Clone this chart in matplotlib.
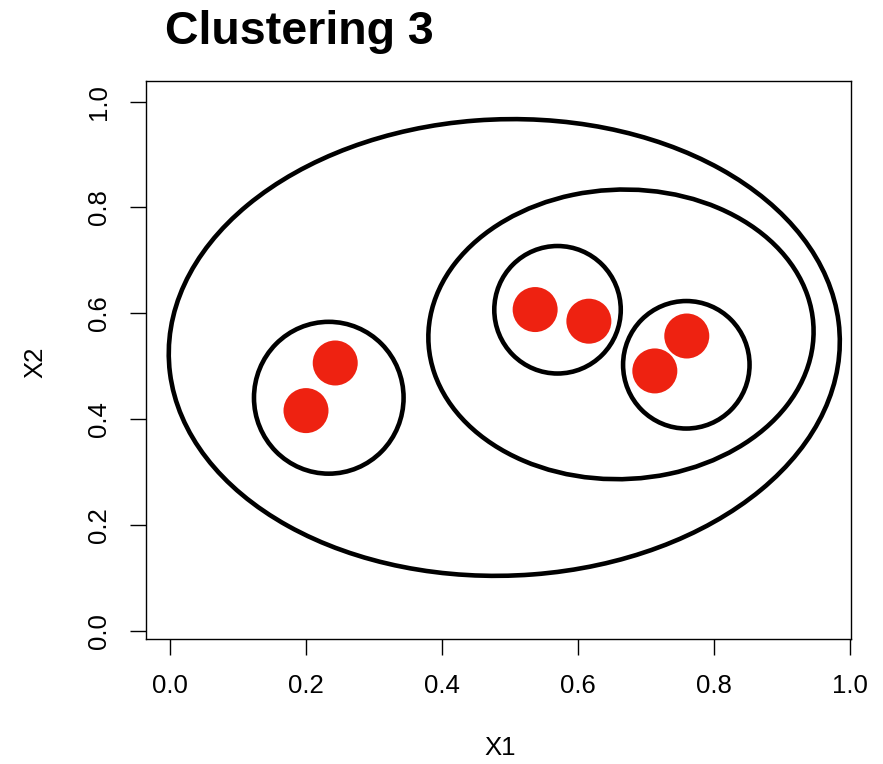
import matplotlib
matplotlib.use('Agg')
import matplotlib.pyplot as plt
from matplotlib.patches import Ellipse
import numpy as np

# points (X1, X2)
x1 = [0.200, 0.243, 0.537, 0.616, 0.713, 0.760]
x2 = [0.416, 0.506, 0.607, 0.585, 0.491, 0.557]

# cluster ellipses: centre x, centre y, width, height, angle
ell_cx = [0.4916, 0.6632, 0.2335, 0.5699, 0.7593]
ell_cy = [0.5353, 0.5601, 0.4403, 0.6066, 0.5026]
ell_w = [0.988, 0.568, 0.220, 0.186, 0.186]
ell_h = [0.862, 0.546, 0.287, 0.241, 0.241]
ell_ang = [5.6, 15.0, 0.0, 0.0, 0.0]

ticks = [0.0, 0.2, 0.4, 0.6, 0.8, 1.0]

plt.rcParams['font.family'] = 'Liberation Sans'

fig = plt.figure(figsize=(8.83, 7.64), dpi=100)
ax = fig.add_axes([146 / 883, 1 - 639 / 764, 705 / 883, 558 / 764])

for cx, cy, w, h, a in zip(ell_cx, ell_cy, ell_w, ell_h, ell_ang):
    ax.add_patch(Ellipse((cx, cy), w, h, angle=a, fill=False,
                         edgecolor='black', lw=3.3))

ax.scatter(x1, x2, s=1050, color='#EE2211', edgecolors='none', zorder=3)

ax.set_xlim(-0.0353, 1.0015)
ax.set_ylim(-0.0157, 1.039)
ax.set_xticks(ticks)
ax.set_yticks(ticks)
ax.set_xticklabels(['%.1f' % t for t in ticks], fontsize=18.5)
ax.set_yticklabels(['%.1f' % t for t in ticks], fontsize=18.5,
                   rotation=90, va='center')
ax.tick_params(length=11.5, width=1.0, pad=14)
for s in ax.spines.values():
    s.set_linewidth(1.0)

fig.text(500 / 883, 1 - 748 / 764, 'X1', ha='center', va='center', fontsize=18.5)
fig.text(35 / 883, 1 - 362 / 764, 'X2', ha='center', va='center',
         fontsize=18.5, rotation=90)
fig.text(165 / 883, 1 - 44 / 764, 'Clustering 3', ha='left', va='baseline',
         fontsize=33.5, fontweight='bold')

plt.savefig('out.png', dpi=100)
